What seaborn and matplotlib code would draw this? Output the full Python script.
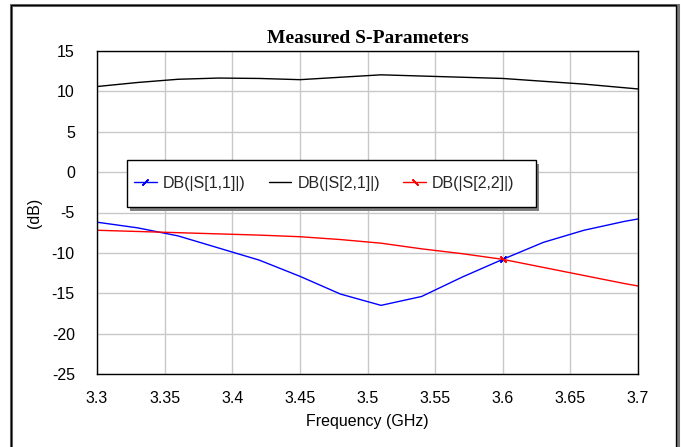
import numpy as np
import matplotlib
matplotlib.use("Agg")
import matplotlib.pyplot as plt
import seaborn as sns
from matplotlib.patches import Rectangle

freq = [3.30, 3.33, 3.36, 3.39, 3.42, 3.45, 3.48, 3.51, 3.54, 3.57, 3.60, 3.63, 3.66, 3.69, 3.70]
s11 = [-6.2, -6.9, -7.9, -9.4, -10.9, -12.9, -15.1, -16.5, -15.4, -13.0, -10.8, -8.7, -7.2, -6.1, -5.8]
s21 = [10.6, 11.1, 11.5, 11.65, 11.6, 11.45, 11.75, 12.05, 11.9, 11.75, 11.6, 11.25, 10.9, 10.45, 10.3]
s22 = [-7.2, -7.35, -7.5, -7.65, -7.8, -8.0, -8.35, -8.8, -9.5, -10.1, -10.8, -11.8, -12.8, -13.8, -14.1]

x_ticks = [3.3, 3.35, 3.4, 3.45, 3.5, 3.55, 3.6, 3.65, 3.7]
y_ticks = [-25, -20, -15, -10, -5, 0, 5, 10, 15]

sns.set_theme(style="white")
plt.rcParams["font.family"] = ["Liberation Sans", "DejaVu Sans"]

fig = plt.figure(figsize=(6.81, 4.47), dpi=100)
ax = fig.add_axes([97 / 681, 1 - 374 / 447, 541 / 681, 323 / 447])

# outer frame with shadow on the right
fig.patches.append(Rectangle((11 / 681, -0.1), 667 / 681, 1.089, transform=fig.transFigure,
                             facecolor="none", edgecolor="#777777", lw=2.2, zorder=0))
fig.patches.append(Rectangle((11 / 681, -0.1), 665 / 681, 1.089, transform=fig.transFigure,
                             facecolor="none", edgecolor="black", lw=1.0, zorder=1))

mark_idx = [freq.index(3.60)]
sns.lineplot(x=freq, y=s11, ax=ax, color="blue", lw=1.0, label="DB(|S[1,1]|)",
             marker=(2, 2, -45), markersize=6, markevery=mark_idx, markeredgewidth=1.0,
             markeredgecolor="blue", sort=False, estimator=None)
sns.lineplot(x=freq, y=s21, ax=ax, color="black", lw=1.0, label="DB(|S[2,1]|)",
             sort=False, estimator=None)
sns.lineplot(x=freq, y=s22, ax=ax, color="red", lw=1.0, label="DB(|S[2,2]|)",
             marker=(2, 2, 45), markersize=6, markevery=mark_idx, markeredgewidth=1.0,
             markeredgecolor="red", sort=False, estimator=None)

ax.set_xlim(3.3, 3.7)
ax.set_ylim(-25, 15)
ax.set_xticks(x_ticks)
ax.set_xticklabels([f"{v:g}" for v in x_ticks])
ax.set_yticks(y_ticks)
ax.set_yticklabels([str(v) for v in y_ticks])
ax.tick_params(length=0, labelsize=11.5, colors="black", pad=12)
ax.tick_params(axis="y", pad=16)
ax.grid(True, color="#c8c8c8", lw=1.0)
ax.set_axisbelow(True)
for s in ax.spines.values():
    s.set_color("black")
    s.set_linewidth(1.0)

ax.set_xlabel("Frequency (GHz)", fontsize=11.5, color="black", labelpad=6)
ax.set_ylabel("(dB)", fontsize=11.5, color="black", labelpad=7)
ax.set_title("Measured S-Parameters", fontsize=14, fontweight="bold",
             family=["Liberation Serif", "DejaVu Serif"], color="black", pad=6)

# legend box with drop shadow, drawn by hand so the padding matches
lx, ly, lw_, lh = 0.0555, 0.517, 0.756, 0.1455
ax.add_patch(Rectangle((lx + 0.006, ly - 0.011), lw_, lh, transform=ax.transAxes,
                       facecolor="#808080", edgecolor="none", zorder=5, clip_on=False))
ax.add_patch(Rectangle((lx, ly), lw_, lh, transform=ax.transAxes,
                       facecolor="white", edgecolor="black", lw=1.0, zorder=6, clip_on=False))
leg = ax.legend(loc="center left", bbox_to_anchor=(lx, ly + lh / 2), ncol=3, fontsize=11.5,
                frameon=False, handlelength=1.4, handletextpad=0.4, columnspacing=1.45,
                borderpad=0.45, borderaxespad=0)
leg.set_zorder(7)

fig.savefig("out.png", dpi=100)
